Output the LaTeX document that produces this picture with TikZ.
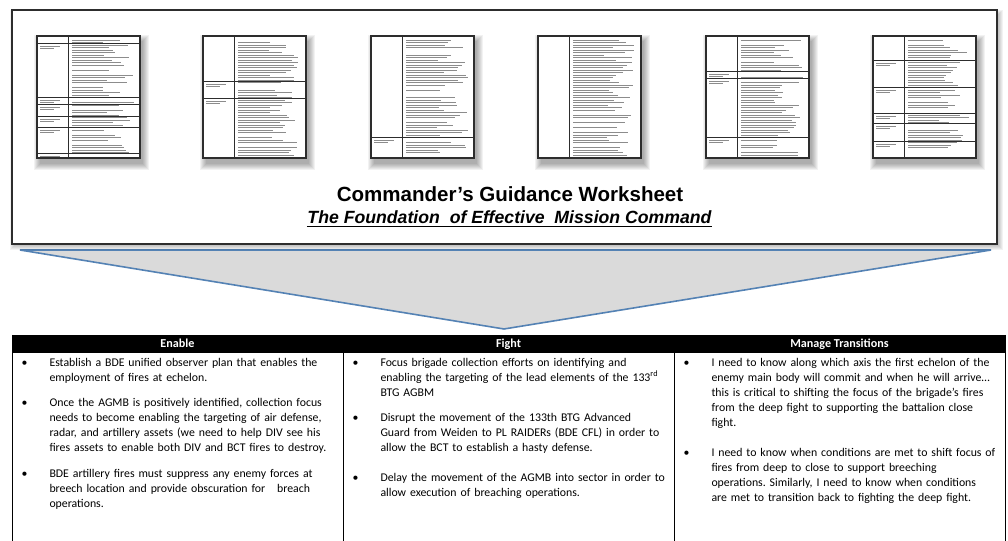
\documentclass[tikz,border=0pt]{standalone}
\usepackage{fontspec}
\setmainfont{Carlito}
\newfontfamily\headfont{Liberation Sans}
\frenchspacing

\definecolor{funnelgray}{RGB}{218,218,218}
\definecolor{funnelblue}{RGB}{84,130,180}
\definecolor{frameedge}{RGB}{45,45,45}
\definecolor{thumbtext}{RGB}{140,140,140}

\tikzset{every picture/.style={line width=0.75pt}}
\tikzset{
  celltext/.style={anchor=north west, inner sep=0pt, align=left, text width=232pt, font=\fontsize{8.85}{11.25}\selectfont},
  bulletdot/.style={anchor=north west, inner sep=0pt, font=\fontsize{8.85}{11.25}\selectfont},
  headtext/.style={anchor=base, inner sep=0pt, text=white, font=\fontsize{9.1}{11}\selectfont\bfseries},
}
\newcommand{\jline}[1]{\makebox[212pt][s]{#1}}
% one small page of the worksheet: #1 left x, #2 rule offsets
\newcommand{\docthumb}[2]{%
  \foreach \k in {0,...,6}
    \fill[black,opacity=0.05] (#1+3-\k,41-\k) rectangle (#1+106+\k,164+\k);
  \fill[white] (#1,36) rectangle (#1+103,158);
  \foreach \yy in {40,42.5,...,155}{
    \pgfmathsetmacro\len{rnd<0.15 ? 0 : 62*(0.5+0.5*rnd)}
    \draw[thumbtext,line width=0.45] (#1+35,\yy) -- ++(\len,0);
  }
  \foreach \r in {#2}{
    \ifnum\r>0
      \draw[thumbtext,line width=0.45] (#1+3,\r+39) -- ++(20,0);
      \draw[thumbtext,line width=0.45] (#1+3,\r+41.5) -- ++(14,0);
    \fi
    \draw[frameedge,line width=0.6] (#1,36+\r) -- (#1+103,36+\r);
  }
  \draw[frameedge,line width=0.6] (#1+31,36) -- (#1+31,158);
  \draw[frameedge,line width=0.9] (#1,36) rectangle (#1+103,158);
}

\begin{document}
\begin{tikzpicture}[x=0.75pt,y=0.75pt,yscale=-1,xscale=1]
	\useasboundingbox (0,0) rectangle (1008,541);
	\pgfmathsetseed{4242}

	%Shape: Triangle (funnel)
	\draw [funnelblue, fill=funnelgray, line width=1.2]  (20,250) -- (991,250) -- (504,329) -- cycle ;

	%Shape: Rectangle (worksheet panel) with shadow
	\foreach \k in {0,...,4}
		\fill [black, opacity=0.05]  (14-\k,14-\k) rectangle (999+\k,246+\k) ;
	\draw [frameedge, fill=white, line width=1.6]  (12,10) rectangle (997,244) ;

	% Worksheet pages
	\docthumb{37}{7,61,68,80,91,117}
	\docthumb{203}{45,62}
	\docthumb{371}{101}
	\docthumb{538}{0}
	\docthumb{706}{35,42,101}
	\docthumb{873}{24,51,77,87,105}

	% Text Node
	\node [anchor=base, inner sep=0pt, font=\headfont\fontsize{15.4}{18}\selectfont\bfseries] (title) at (510,201.7) {Commander’s Guidance Worksheet};
	% Text Node
	\node [anchor=base, inner sep=0pt, font=\headfont\fontsize{13.25}{16}\selectfont\bfseries\itshape] (subtitle) at (509.5,223.3) {The Foundation\ \ of Effective\ \ Mission Command};
	\draw [line width=1.1]  ([yshift=2.5pt]subtitle.base west) -- ([yshift=2.5pt]subtitle.base east) ;

	%Shape: Rectangle (table header)
	\fill  (12,335) rectangle (1005,353) ;
	%Straight Lines
	\draw  (12,335) -- (12,541) ;
	\draw  (1005,335) -- (1005,541) ;
	\draw  (343,353) -- (343,541) ;
	\draw  (674,353) -- (674,541) ;

	% Text Node
	\node [headtext] (enable) at (177.5,348) {Enable};
	% Text Node
	\node [headtext] (fight) at (508.5,348) {Fight};
	% Text Node
	\node [headtext] (transitions) at (839.5,348) {Manage Transitions};

	% Enable column
	\node [bulletdot] (dotEnableA) at (21,355.5) {\strut•};
	\node [celltext] (enableA) at (49,355.5) {\strut Establish a BDE unified observer plan that enables the\\employment of fires at echelon.};
	\node [bulletdot] (dotEnableB) at (21,395.2) {\strut•};
	\node [celltext] (enableB) at (49,395.2) {\strut\jline{Once the AGMB is positively identified, collection focus}\\\jline{needs to become enabling the targeting of air defense,}\\\jline{radar, and artillery assets (we need to help DIV see his}\\fires assets to enable both DIV and BCT fires to destroy.};
	\node [bulletdot] (dotEnableC) at (21,466.8) {\strut•};
	\node [celltext] (enableC) at (49,466.8) {\strut\jline{BDE artillery fires must suppress any enemy forces at}\\\jline{breech location and provide obscuration for\ \ \ breach}\\operations.};

	% Fight column
	\node [bulletdot] (dotFightA) at (352,355.5) {\strut•};
	\node [celltext] (fightA) at (380,355.5) {\strut Focus brigade collection efforts on identifying and\\enabling the targeting of the lead elements of the 133\smash{\textsuperscript{rd}}\\BTG AGBM};
	\node [bulletdot] (dotFightB) at (352,410.5) {\strut•};
	\node [celltext] (fightB) at (380,410.5) {\strut Disrupt the movement of the 133th BTG Advanced\\Guard from Weiden to PL RAIDERs (BDE CFL) in order to\\allow the BCT to establish a hasty defense.};
	\node [bulletdot] (dotFightC) at (352,470.5) {\strut•};
	\node [celltext] (fightC) at (380,470.5) {\strut Delay the movement of the AGMB into sector in order to\\allow execution of breaching operations.};

	% Manage Transitions column
	\node [bulletdot] (dotTransA) at (683,355.5) {\strut•};
	\node [celltext] (transA) at (711,355.5) {\strut I need to know along which axis the first echelon of the\\enemy main body will commit and when he will arrive…\\this is critical to shifting the focus of the brigade’s fires\\from the deep fight to supporting the battalion close\\fight.};
	\node [bulletdot] (dotTransB) at (683,445.5) {\strut•};
	\node [celltext] (transB) at (711,445.5) {\strut I need to know when conditions are met to shift focus of\\fires from deep to close to support breeching\\operations. Similarly, I need to know when conditions\\are met to transition back to fighting the deep fight.};

\end{tikzpicture}
\end{document}
